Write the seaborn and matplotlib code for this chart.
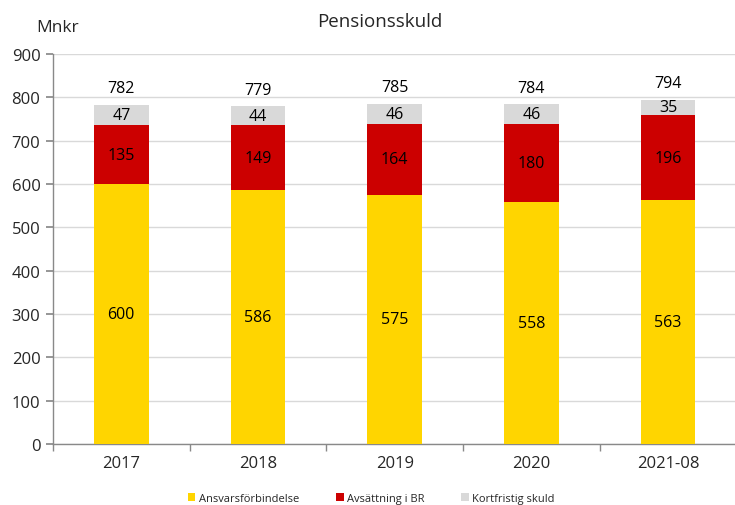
import matplotlib
matplotlib.use("Agg")
import matplotlib.pyplot as plt
import seaborn as sns
import pandas as pd
import numpy as np
from matplotlib.patches import Patch

categories = ["2017", "2018", "2019", "2020", "2021-08"]
ansvar = [600, 586, 575, 558, 563]
avsattning = [135, 149, 164, 180, 196]
kortfristig = [47, 44, 46, 46, 35]
totals = [782, 779, 785, 784, 794]

series_names = ["Ansvarsförbindelse", "Avsättning i BR", "Kortfristig skuld"]
colors = ["#FFD500", "#CC0000", "#D9D9D9"]

sns.set_theme(style="white")
plt.rcParams['font.family'] = ['Open Sans', 'DejaVu Sans']

df = pd.DataFrame({"cat": categories, "a": ansvar, "b": avsattning, "c": kortfristig})

fig = plt.figure(figsize=(7.35, 5.06), dpi=100)
ax = fig.add_axes([0.072, 0.1206, 0.93, 0.7708])

bottom = np.zeros(len(categories))
for col, color in zip(["a", "b", "c"], colors):
    sns.barplot(data=df, x="cat", y=col, color=color, width=0.4, bottom=bottom,
                ax=ax, saturation=1, linewidth=0, zorder=3)
    bottom = bottom + df[col].values

fs = 11.5
for i in range(len(categories)):
    ax.text(i, ansvar[i] / 2, str(ansvar[i]), ha="center", va="center", fontsize=fs, color="#000000", zorder=4)
    ax.text(i, ansvar[i] + avsattning[i] / 2, str(avsattning[i]), ha="center", va="center", fontsize=fs, color="#000000", zorder=4)
    ax.text(i, ansvar[i] + avsattning[i] + kortfristig[i] / 2, str(kortfristig[i]), ha="center", va="center", fontsize=fs, color="#000000", zorder=4)
    ax.text(i, totals[i] + 20, str(totals[i]), ha="center", va="bottom", fontsize=fs, color="#000000", zorder=4)

ax.set_ylim(0, 900)
ax.set_xlim(-0.5, len(categories) - 0.5)
ax.set_yticks(np.arange(0, 901, 100))
ax.yaxis.grid(True, color="#D9D9D9", linewidth=1, zorder=0)
ax.set_axisbelow(True)
ax.set_xlabel("")
ax.set_ylabel("")

for s in ["top", "right"]:
    ax.spines[s].set_visible(False)
for s in ["left", "bottom"]:
    ax.spines[s].set_color("#898989")
    ax.spines[s].set_linewidth(1)

ax.tick_params(axis="y", which="major", direction="out", length=5, color="#898989", labelsize=12, pad=4, left=True)
ax.tick_params(axis="x", which="major", length=0, labelsize=12, pad=8)
ax.set_xticks(range(len(categories)))
ax.set_xticklabels(categories)
ax.set_xticks(np.arange(-0.5, len(categories)), minor=True)
ax.tick_params(axis="x", which="minor", direction="out", length=5, color="#898989", bottom=True)

fig.text(0.516, 0.957, "Pensionsskuld", ha="center", va="center", fontsize=13.5)
fig.text(0.05, 0.945, "Mnkr", ha="left", va="center", fontsize=12.5)

handles = [Patch(facecolor=c, edgecolor="none") for c in colors]
fig.legend(handles, series_names, loc="center", bbox_to_anchor=(0.505, 0.013), ncol=3,
           frameon=False, fontsize=8, handlelength=0.7, handleheight=0.7,
           handletextpad=0.3, columnspacing=3.3)

fig.savefig("out.png", dpi=100)
